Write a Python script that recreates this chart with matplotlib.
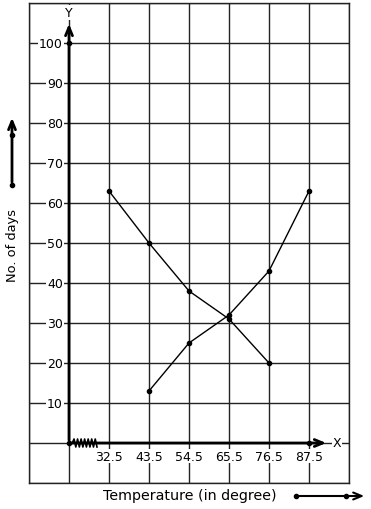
import numpy as np
import matplotlib
matplotlib.use('Agg')
import matplotlib.pyplot as plt

# data
temps = [32.5, 43.5, 54.5, 65.5, 76.5, 87.5]
falling_x = [32.5, 43.5, 54.5, 65.5, 76.5]
falling_y = [63, 50, 38, 31, 20]
rising_x = [43.5, 54.5, 65.5, 76.5, 87.5]
rising_y = [13, 25, 32, 43, 63]
y_ticks = [10, 20, 30, 40, 50, 60, 70, 80, 90, 100]

fig = plt.figure(figsize=(3.71, 5.10), dpi=100)
ax = fig.add_axes([29 / 371, 26 / 510, 320 / 371, 480 / 510])
ax.set_xlim(10.5, 98.5)
ax.set_ylim(-10, 110)

# graph-paper grid
ax.set_xticks(np.arange(10.5, 99, 11))
ax.set_yticks(np.arange(-10, 111, 10))
ax.grid(True, color='#222222', lw=1)
ax.tick_params(length=0, labelbottom=False, labelleft=False)
for s in ax.spines.values():
    s.set_color('#222222')
    s.set_linewidth(1)

box = dict(facecolor='white', edgecolor='none', pad=0.5)
for v in y_ticks:
    ax.text(19.8, v, str(v), ha='right', va='center', fontsize=9, bbox=box, zorder=5)
for t in temps:
    ax.text(t, -3.3, str(t), ha='center', va='center', fontsize=9, bbox=box, zorder=5)

# axes with arrow heads
ax.annotate('', xy=(93.0, 0), xytext=(21.5, 0),
            arrowprops=dict(arrowstyle='->,head_length=0.6,head_width=0.25', lw=2, color='black'), zorder=6)
ax.annotate('', xy=(21.5, 105.5), xytext=(21.5, 0),
            arrowprops=dict(arrowstyle='->,head_length=0.6,head_width=0.25', lw=2, color='black'), zorder=6)
ax.text(95.3, 0, 'X', ha='center', va='center', fontsize=9, bbox=box, zorder=6)
ax.text(21.5, 107.6, 'Y', ha='center', va='center', fontsize=9, bbox=box, zorder=6)
ax.plot([21.5, 21.5, 87.5], [100, 0, 0], 'o', color='black', ms=3, zorder=7)

# axis break zigzag
zx = np.linspace(22.4, 29.2, 15)
zy = np.array([0] + [1.0, -1.0] * 7)
ax.plot(zx, zy, color='black', lw=1.2, zorder=7)

ax.plot(falling_x, falling_y, '-o', color='black', lw=1, ms=3, zorder=4)
ax.plot(rising_x, rising_y, '-o', color='black', lw=1, ms=3, zorder=4)

# labels and scale arrows outside the grid
fig.text(190 / 371, 1 - 496 / 510, 'Temperature (in degree)', ha='center', va='center', fontsize=10.3)
fig.text(13 / 371, 1 - 245 / 510, 'No. of days', ha='center', va='center', rotation=90, fontsize=9.4)

ax.annotate('', xy=(12, 510 - 116), xytext=(12, 510 - 186), xycoords='figure pixels',
            arrowprops=dict(arrowstyle='->,head_length=0.6,head_width=0.25', lw=2, color='black'))
ax.plot([12, 12], [510 - 186, 510 - 136], 'o', color='black', ms=3,
        transform=None, clip_on=False)
ax.annotate('', xy=(367, 510 - 497), xytext=(296, 510 - 497), xycoords='figure pixels',
            arrowprops=dict(arrowstyle='->,head_length=0.6,head_width=0.25', lw=1.5, color='black'))
ax.plot([296, 346], [510 - 497, 510 - 497], 'o', color='black', ms=3,
        transform=None, clip_on=False)

fig.savefig('out.png', dpi=100)
